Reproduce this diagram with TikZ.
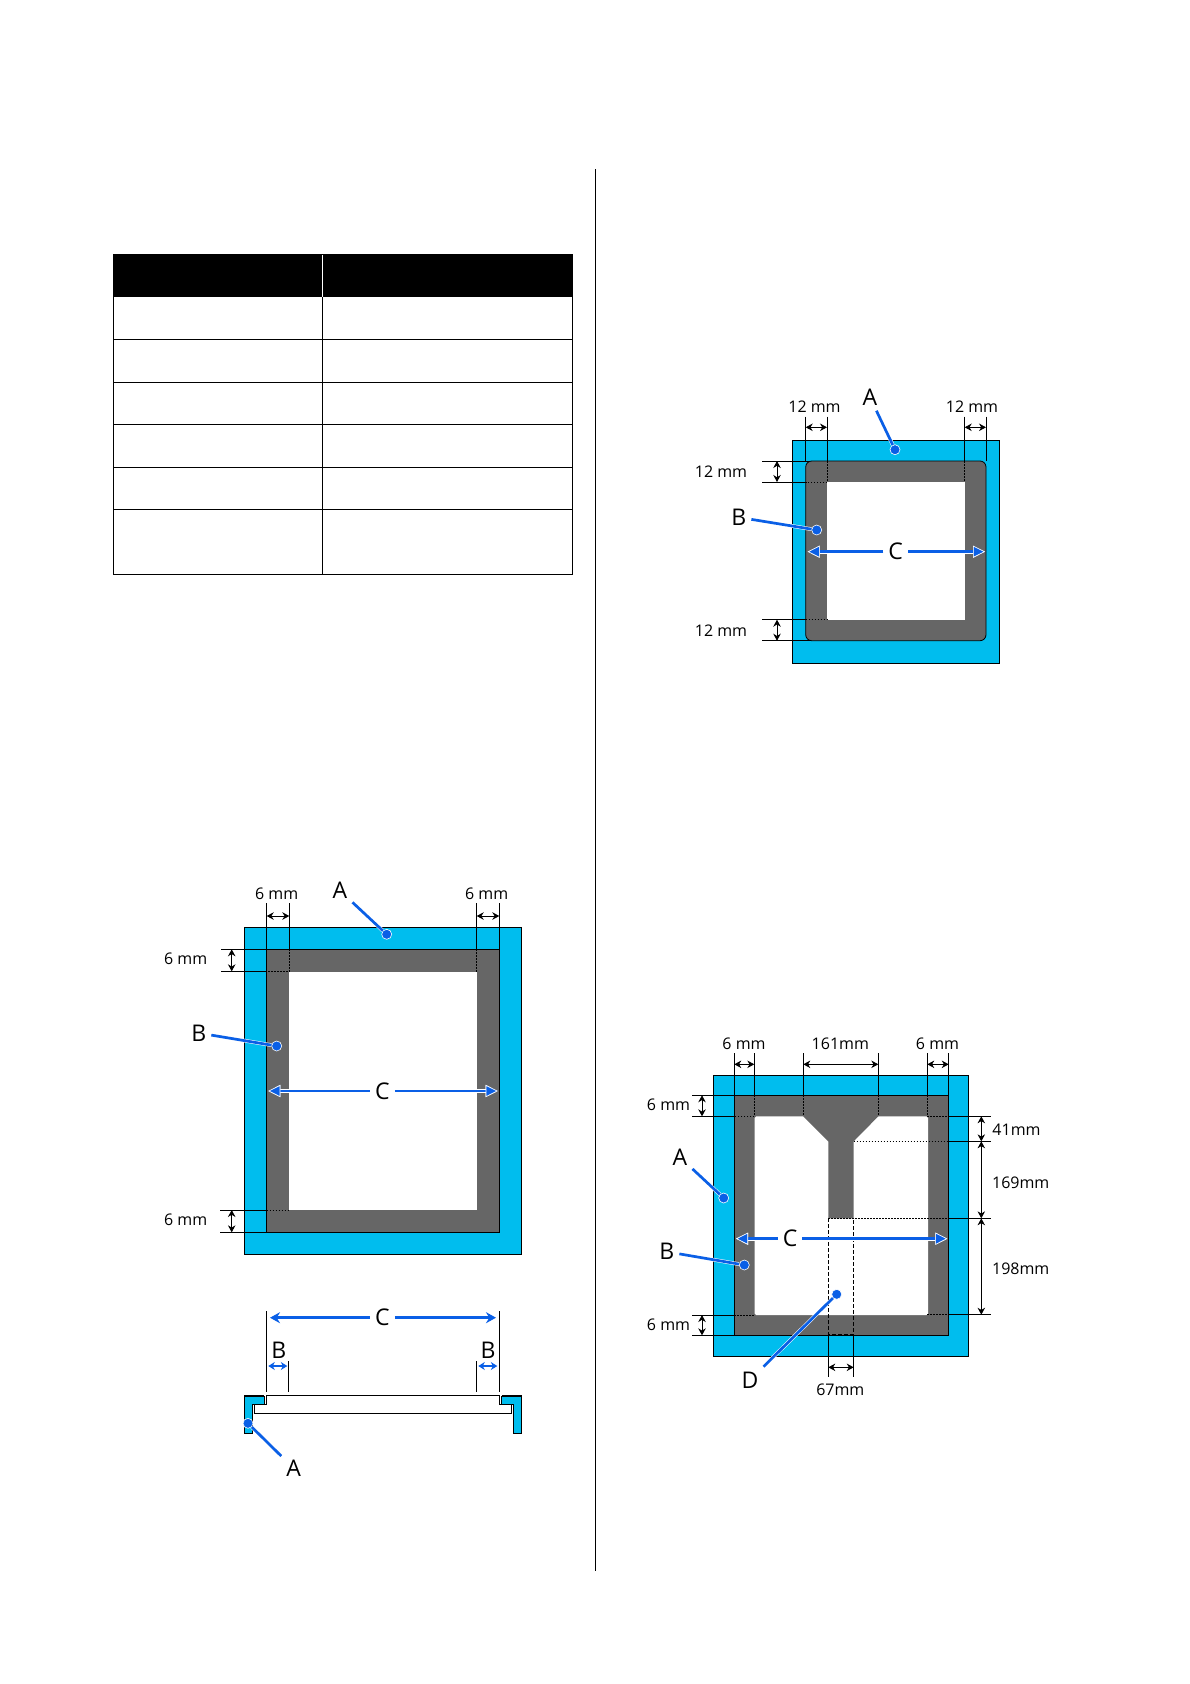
\documentclass[tikz,border=0pt]{standalone}
\usepackage{fontspec}
\setmainfont{Open Sans}
\usetikzlibrary{arrows.meta}
\definecolor{framecyan}{HTML}{00BDEE}
\definecolor{bandgray}{HTML}{666666}
\definecolor{markblue}{HTML}{0A5FE6}
\tikzset{
  frame/.style={draw=black, line width=0.8pt, fill=framecyan},
  band/.style={draw=black, line width=0.8pt, fill=bandgray},
  hole/.style={fill=white},
  ext/.style={line width=0.8pt},
  dots/.style={line width=0.8pt, dash pattern=on 1.5pt off 1.5pt},
  dim/.style={line width=0.9pt, {Stealth[length=7pt,width=7.5pt]}-{Stealth[length=7pt,width=7.5pt]}},
  size/.style={font=\fontsize{16}{16}\selectfont, inner sep=0pt},
  letter/.style={font=\fontsize{23}{23}\selectfont, inner sep=5pt},
  gapletter/.style={letter, fill=white, inner sep=5pt},
  spot/.style={circle, fill=markblue, draw=white, line width=0.6pt, minimum size=10pt, inner sep=0pt},
  lead/.style={draw=markblue, line width=2.7pt, preaction={draw=white, line width=3.7pt}},
  span/.style={lead, -{Triangle[length=12pt,width=12pt,fill=markblue,color=white,line width=0.6pt]}},
  bspan/.style={draw=markblue, line width=2pt, {Stealth[length=6.5pt,width=8pt]}-{Stealth[length=6.5pt,width=8pt]}},
  cspan/.style={draw=markblue, line width=2.7pt, -{Stealth[length=10pt,width=11pt]}}
}
\begin{document}
\begin{tikzpicture}[x=1pt, y=-1pt]
\useasboundingbox (0, 0) rectangle (1190, 1684);

% column rule
\draw[line width=0.9pt] (595.7, 169) to (595.7, 1570.5);

% table
\fill[black] (113.3, 254.3) rectangle (572.7, 296.7);
\draw[white, line width=0.8pt] (322.3, 254.3) to (322.3, 296.7);
\draw[line width=0.9pt] (113.3, 254.3) rectangle (572.7, 574.3);
\draw[line width=0.9pt] (322.3, 296.7) to (322.3, 574.3);
\draw[line width=0.9pt] (113.3, 339.3) to (572.7, 339.3);
\draw[line width=0.9pt] (113.3, 382.3) to (572.7, 382.3);
\draw[line width=0.9pt] (113.3, 424.3) to (572.7, 424.3);
\draw[line width=0.9pt] (113.3, 467.3) to (572.7, 467.3);
\draw[line width=0.9pt] (113.3, 509.3) to (572.7, 509.3);

% left frame, top view
\draw[frame] (244.7, 927.7) rectangle (521.7, 1254.3);
\draw[band] (266.7, 949.3) rectangle (499.3, 1232.3);
\fill[hole] (289, 971.7) rectangle (477, 1210);
\draw[ext] (266.7, 903.3) to (266.7, 949.3);
\draw[ext] (289.3, 903.3) to (289.3, 949.3);
\draw[ext] (476.7, 903.3) to (476.7, 949.3);
\draw[ext] (499.3, 903.3) to (499.3, 949.3);
\draw[dots] (289.3, 949.3) to (289.3, 971.7) to (266.7, 971.7);
\draw[dots] (476.7, 949.3) to (476.7, 971.7);
\draw[dots] (266.7, 1210) to (289, 1210);
\draw[ext] (221.3, 949.3) to (266.7, 949.3);
\draw[ext] (221.3, 971.3) to (266.7, 971.3);
\draw[ext] (220, 1210) to (266.7, 1210);
\draw[ext] (220, 1232.3) to (266.7, 1232.3);
\coordinate (t1a) at (266.7, 916);
\coordinate (t1b) at (289.3, 916);
\coordinate (t2a) at (476.7, 916);
\coordinate (t2b) at (499.3, 916);
\coordinate (s1a) at (231.7, 949.3);
\coordinate (s1b) at (231.7, 971.3);
\coordinate (s2a) at (231.7, 1210);
\coordinate (s2b) at (231.7, 1232.3);
\draw[dim] (t1a) to (t1b);
\draw[dim] (t2a) to (t2b);
\draw[dim] (s1a) to (s1b);
\draw[dim] (s2a) to (s2b);
\node[size] (l1) at (276.7, 893.5) {6 mm};
\node[size] (l2) at (486.7, 893.5) {6 mm};
\node[size] (l3) at (185.7, 959) {6 mm};
\node[size] (l4) at (185.7, 1219.5) {6 mm};
\node[spot] (a1s) at (386.7, 934.3) {};
\node[spot] (b1s) at (276.7, 1046) {};
\node[letter] (a1) at (340, 890.7) {A};
\node[letter] (b1) at (198.7, 1033) {B};
\node[gapletter] (c1) at (382.3, 1091) {C};
\coordinate (c1l) at (268.3, 1091);
\coordinate (c1r) at (497.7, 1091);
\draw[lead] (a1) to (a1s);
\draw[lead] (b1) to (b1s);
\draw[span] (c1) to (c1l);
\draw[span] (c1) to (c1r);

% left frame, section
\draw[frame] (244.3, 1396) to (264.3, 1396) to (264.3, 1404.3) to (252.7, 1404.3) to (252.7, 1433.3) to (244.3, 1433.3) to cycle;
\draw[frame] (521.7, 1396) to (501.7, 1396) to (501.7, 1404.3) to (513.3, 1404.3) to (513.3, 1433.3) to (521.7, 1433.3) to cycle;
\draw[line width=1.4pt] (244.3, 1396) to (264.3, 1396);
\draw[line width=1.4pt] (501.7, 1396) to (521.7, 1396);
\draw[ext, fill=white] (266.3, 1395.3) to (499.7, 1395.3) to (499.7, 1404.3) to (511.7, 1404.3) to (511.7, 1413.3) to (254.3, 1413.3) to (254.3, 1404.3) to (266.3, 1404.3) to cycle;
\draw[ext] (266.3, 1311) to (266.3, 1391.7);
\draw[ext] (499.3, 1311) to (499.3, 1391.7);
\draw[ext] (288.3, 1361) to (288.3, 1391.7);
\draw[ext] (476.3, 1361) to (476.3, 1391.7);
\node[gapletter] (c2) at (382.3, 1317.7) {C};
\coordinate (c2l) at (270, 1317.7);
\coordinate (c2r) at (496, 1317.7);
\draw[cspan] (c2) to (c2l);
\draw[cspan] (c2) to (c2r);
\node[letter, inner sep=0pt] (b2) at (278.7, 1350.7) {B};
\node[letter, inner sep=0pt] (b3) at (488, 1350.7) {B};
\coordinate (b2l) at (268.3, 1366);
\coordinate (b2r) at (287.3, 1366);
\coordinate (b3l) at (478.3, 1366);
\coordinate (b3r) at (497.3, 1366);
\draw[bspan] (b2l) to (b2r);
\draw[bspan] (b3l) to (b3r);
\node[spot] (a2s) at (248, 1423.3) {};
\node[letter] (a2) at (293.7, 1468.3) {A};
\draw[lead] (a2) to (a2s);

% right frame, 12 mm
\draw[frame] (792.7, 440.3) rectangle (999.3, 663.3);
\draw[band, rounded corners=6pt] (805.7, 461) rectangle (986, 640.7);
\fill[hole] (827, 482) rectangle (965, 620);
\draw[ext] (805.7, 416.7) to (805.7, 461);
\draw[ext] (827, 416.7) to (827, 461);
\draw[ext] (964.7, 416.7) to (964.7, 461);
\draw[ext] (986, 416.7) to (986, 461);
\draw[dots] (827, 461) to (827, 482) to (805.7, 482);
\draw[dots] (964.7, 461) to (964.7, 482);
\draw[dots] (805.7, 619.7) to (827, 619.7);
\draw[ext] (762, 461) to (810, 461);
\draw[ext] (762, 482) to (805.7, 482);
\draw[ext] (762, 619.7) to (805.7, 619.7);
\draw[ext] (762, 640.7) to (810, 640.7);
\coordinate (t3a) at (805.7, 427.3);
\coordinate (t3b) at (827, 427.3);
\coordinate (t4a) at (964.7, 427.3);
\coordinate (t4b) at (986, 427.3);
\coordinate (s3a) at (777, 461);
\coordinate (s3b) at (777, 482);
\coordinate (s4a) at (777, 619.7);
\coordinate (s4b) at (777, 640.7);
\draw[dim] (t3a) to (t3b);
\draw[dim] (t4a) to (t4b);
\draw[dim] (s3a) to (s3b);
\draw[dim] (s4a) to (s4b);
\node[size] (l5) at (814.5, 407) {12 mm};
\node[size] (l6) at (972, 407) {12 mm};
\node[size] (l7) at (721, 472) {12 mm};
\node[size] (l8) at (721, 631) {12 mm};
\node[spot] (a3s) at (895, 449.7) {};
\node[spot] (b3s) at (816.7, 530) {};
\node[letter] (a3) at (870, 397.3) {A};
\node[letter] (b4) at (738.7, 517.3) {B};
\node[gapletter] (c3) at (895.7, 551.7) {C};
\coordinate (c3l) at (807.7, 551.7);
\coordinate (c3r) at (985, 551.7);
\draw[lead] (a3) to (a3s);
\draw[lead] (b4) to (b3s);
\draw[span] (c3) to (c3l);
\draw[span] (c3) to (c3r);

% right frame, T shape
\draw[frame] (713.3, 1075.3) rectangle (968.3, 1356.3);
\draw[band] (734.3, 1095.3) rectangle (948.7, 1335.3);
\fill[hole, rounded corners=1.5pt] (754.7, 1116.3) rectangle (928, 1315);
\fill[bandgray] (803.3, 1115) to (878.3, 1115) to (878.3, 1116.3) to (853.7, 1141.3) to (853.7, 1218.3) to (828.3, 1218.3) to (828.3, 1141.3) to (803.3, 1116.3) to cycle;
\draw[ext] (734.3, 1053.3) to (734.3, 1095.3);
\draw[ext] (754.3, 1053.3) to (754.3, 1095.3);
\draw[ext] (803.3, 1053.3) to (803.3, 1095.3);
\draw[ext] (878.3, 1053.3) to (878.3, 1095.3);
\draw[ext] (927.3, 1053.3) to (927.3, 1095.3);
\draw[ext] (948.7, 1053.3) to (948.7, 1095.3);
\draw[dots] (754.3, 1095.3) to (754.3, 1116.3) to (734.3, 1116.3);
\draw[dots] (803.3, 1095.3) to (803.3, 1116.3);
\draw[dots] (878.3, 1095.3) to (878.3, 1116.3);
\draw[dots] (927.3, 1095.3) to (927.3, 1116.3) to (948.7, 1116.3);
\draw[dots] (734.3, 1315) to (754.7, 1315);
\draw[dots] (927.3, 1314.7) to (948.7, 1314.7);
\draw[dots] (853.7, 1141.3) to (948.7, 1141.3);
\draw[dots] (828.3, 1218.3) to (948.7, 1218.3);
\draw[ext, dash pattern=on 3.5pt off 2.5pt] (828.3, 1218.3) to (828.3, 1334.3) to (853.7, 1334.3) to (853.7, 1218.3);
\draw[ext] (828.3, 1335.3) to (828.3, 1377.3);
\draw[ext] (853.7, 1335.3) to (853.7, 1377.3);
\draw[ext] (692.3, 1095.3) to (734.3, 1095.3);
\draw[ext] (692.3, 1116.3) to (734.3, 1116.3);
\draw[ext] (692.3, 1315) to (734.3, 1315);
\draw[ext] (692.3, 1335.3) to (734.3, 1335.3);
\draw[ext] (948.7, 1116.3) to (990.7, 1116.3);
\draw[ext] (948.7, 1141.3) to (990.7, 1141.3);
\draw[ext] (948.7, 1218.3) to (990.7, 1218.3);
\draw[ext] (948.7, 1314.7) to (990.7, 1314.7);
\coordinate (t5a) at (734.3, 1064.3);
\coordinate (t5b) at (754.3, 1064.3);
\coordinate (t6a) at (803.3, 1064.3);
\coordinate (t6b) at (878.3, 1064.3);
\coordinate (t7a) at (927.3, 1064.3);
\coordinate (t7b) at (948.7, 1064.3);
\coordinate (t8a) at (828.3, 1367.3);
\coordinate (t8b) at (853.7, 1367.3);
\coordinate (s5a) at (702, 1095.3);
\coordinate (s5b) at (702, 1116.3);
\coordinate (s6a) at (702, 1315);
\coordinate (s6b) at (702, 1335.3);
\coordinate (r1) at (981.3, 1116.3);
\coordinate (r2) at (981.3, 1141.3);
\coordinate (r3) at (981.3, 1218.3);
\coordinate (r4) at (981.3, 1314.7);
\draw[dim] (t5a) to (t5b);
\draw[dim] (t6a) to (t6b);
\draw[dim] (t7a) to (t7b);
\draw[dim] (t8a) to (t8b);
\draw[dim] (s5a) to (s5b);
\draw[dim] (s6a) to (s6b);
\draw[dim] (r1) to (r2);
\draw[dim] (r2) to (r3);
\draw[dim] (r3) to (r4);
\node[size] (l9) at (744, 1044) {6 mm};
\node[size] (l10) at (840.3, 1044) {161mm};
\node[size] (l11) at (937.5, 1044) {6 mm};
\node[size] (l12) at (668.5, 1104.5) {6 mm};
\node[size] (l13) at (668.5, 1325) {6 mm};
\node[size] (l14) at (1016.5, 1129.5) {41mm};
\node[size] (l15) at (1020.7, 1183) {169mm};
\node[size] (l16) at (1020.7, 1269) {198mm};
\node[size] (l17) at (840.3, 1389.5) {67mm};
\node[spot] (a4s) at (723.7, 1198) {};
\node[spot] (b5s) at (744.3, 1265) {};
\node[spot] (d1s) at (836.7, 1294.3) {};
\node[letter] (a4) at (680, 1157.3) {A};
\node[letter] (b5) at (666.7, 1251.7) {B};
\node[letter] (d1) at (750, 1380) {D};
\node[gapletter] (c4) at (790, 1238.7) {C};
\coordinate (c4l) at (736, 1238.7);
\coordinate (c4r) at (947.3, 1238.7);
\draw[lead] (a4) to (a4s);
\draw[lead] (b5) to (b5s);
\draw[lead] (d1) to (d1s);
\draw[span] (c4) to (c4l);
\draw[span] (c4) to (c4r);
\end{tikzpicture}
\end{document}
